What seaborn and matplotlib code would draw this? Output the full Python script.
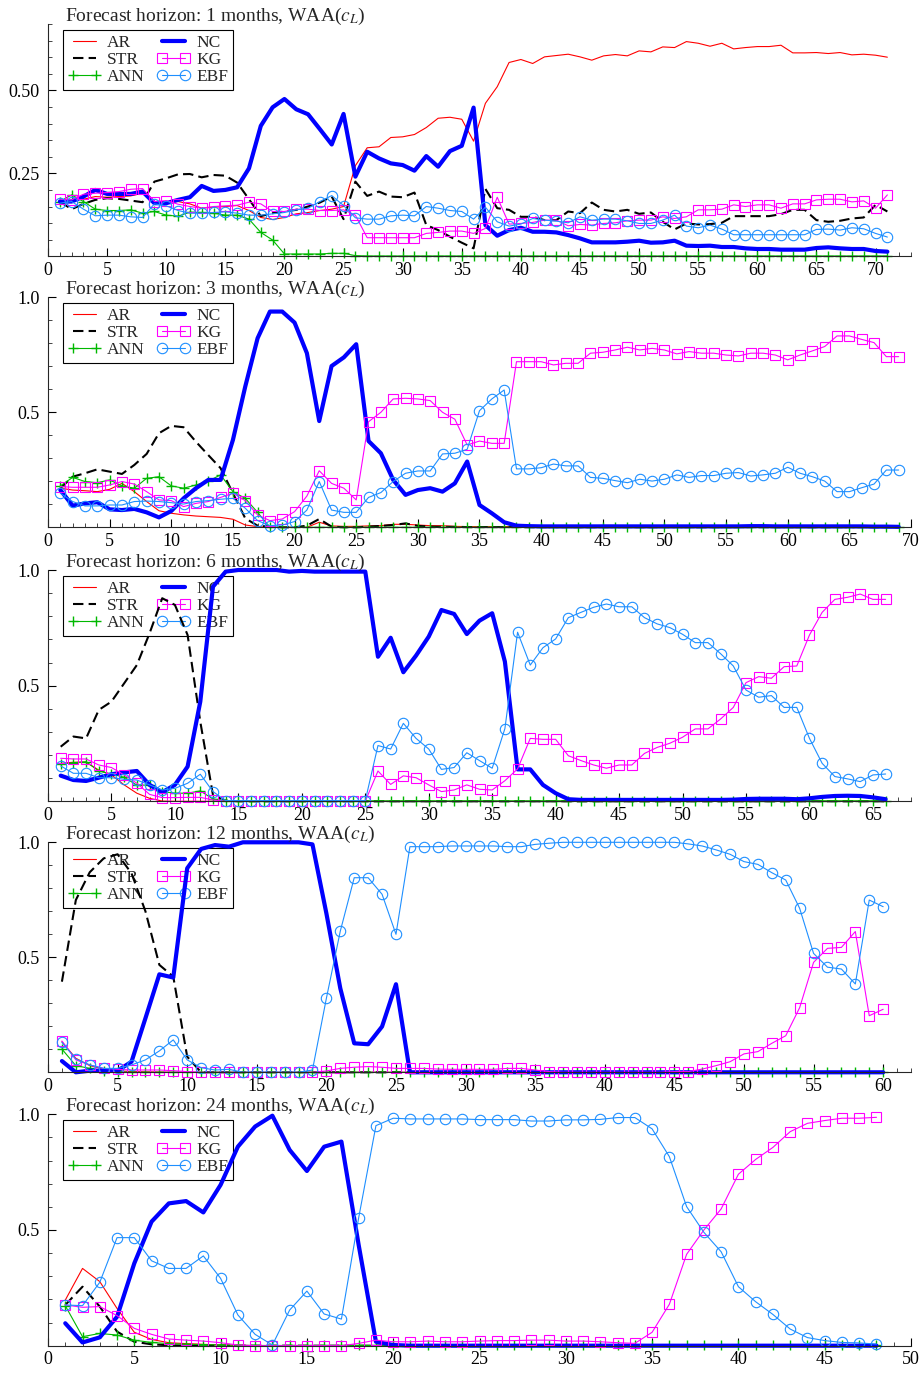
#!/usr/bin/env python3
"""
Forecast-horizon weight panels, WAA(c_L), five horizons stacked
"""
import matplotlib
matplotlib.use('Agg')
import matplotlib.pyplot as plt
from matplotlib.ticker import MultipleLocator, FixedLocator, FormatStrFormatter
import seaborn as sns

# ---- data: weights per model, one value per month index (1..n) ----
# horizon 1 month (71 points)
p1_ar = [0.165, 0.17, 0.172, 0.18, 0.178, 0.18, 0.182, 0.19, 0.165, 0.165,
         0.165, 0.158, 0.145, 0.148, 0.15, 0.153, 0.138, 0.117, 0.111, 0.117,
         0.128, 0.132, 0.138, 0.142, 0.15, 0.273, 0.327, 0.33, 0.358, 0.36,
         0.367, 0.388, 0.416, 0.419, 0.413, 0.347, 0.461, 0.511, 0.584, 0.593,
         0.581, 0.601, 0.605, 0.609, 0.601, 0.591, 0.604, 0.608, 0.604, 0.619,
         0.616, 0.631, 0.629, 0.647, 0.642, 0.633, 0.642, 0.625, 0.629, 0.632,
         0.632, 0.636, 0.613, 0.613, 0.614, 0.611, 0.614, 0.607, 0.609, 0.606,
         0.6]
p1_str = [0.165, 0.142, 0.158, 0.17, 0.175, 0.173, 0.168, 0.163, 0.225, 0.235,
          0.247, 0.248, 0.238, 0.245, 0.243, 0.222, 0.172, 0.121, 0.13, 0.135,
          0.14, 0.15, 0.162, 0.18, 0.112, 0.225, 0.182, 0.195, 0.18, 0.178,
          0.192, 0.094, 0.079, 0.059, 0.041, 0.024, 0.203, 0.145, 0.14, 0.119,
          0.119, 0.109, 0.109, 0.135, 0.13, 0.162, 0.14, 0.135, 0.14, 0.128,
          0.132, 0.104, 0.081, 0.099, 0.096, 0.097, 0.101, 0.121, 0.121, 0.121,
          0.121, 0.127, 0.14, 0.14, 0.109, 0.104, 0.107, 0.114, 0.117, 0.155,
          0.135]
p1_ann = [0.165, 0.185, 0.165, 0.142, 0.138, 0.138, 0.14, 0.13, 0.135, 0.124,
          0.121, 0.133, 0.132, 0.13, 0.124, 0.124, 0.112, 0.072, 0.049, 0.007,
          0.007, 0.007, 0.007, 0.009, 0.009, 0.002, 0.001, 0.001, 0.001, 0.001,
          0.001, 0.001, 0.001, 0.001, 0.001, 0.001, 0.001, 0.001, 0.001, 0.001,
          0.001, 0.001, 0.001, 0.001, 0.001, 0.001, 0.001, 0.001, 0.001, 0.001,
          0.001, 0.001, 0.001, 0.001, 0.001, 0.001, 0.001, 0.001, 0.001, 0.001,
          0.001, 0.001, 0.001, 0.001, 0.001, 0.001, 0.001, 0.001, 0.001, 0.001,
          0.001]
p1_nc = [0.165, 0.165, 0.18, 0.2, 0.188, 0.188, 0.188, 0.195, 0.16, 0.16,
         0.17, 0.178, 0.212, 0.197, 0.2, 0.208, 0.265, 0.393, 0.449, 0.474,
         0.443, 0.428, 0.383, 0.337, 0.429, 0.24, 0.315, 0.295, 0.28, 0.275,
         0.258, 0.302, 0.27, 0.317, 0.333, 0.448, 0.094, 0.062, 0.079, 0.086,
         0.074, 0.074, 0.072, 0.064, 0.054, 0.042, 0.042, 0.042, 0.044, 0.047,
         0.041, 0.042, 0.047, 0.032, 0.031, 0.032, 0.028, 0.028, 0.024, 0.022,
         0.022, 0.02, 0.02, 0.02, 0.025, 0.027, 0.024, 0.022, 0.022, 0.016,
         0.014]
p1_kg = [0.172, 0.17, 0.187, 0.19, 0.192, 0.195, 0.202, 0.204, 0.165, 0.168,
         0.157, 0.15, 0.145, 0.15, 0.152, 0.154, 0.163, 0.158, 0.135, 0.135,
         0.142, 0.142, 0.138, 0.138, 0.14, 0.124, 0.056, 0.056, 0.056, 0.056,
         0.056, 0.069, 0.072, 0.076, 0.076, 0.069, 0.084, 0.178, 0.097, 0.099,
         0.102, 0.109, 0.109, 0.092, 0.096, 0.094, 0.099, 0.101, 0.107, 0.109,
         0.109, 0.119, 0.114, 0.119, 0.14, 0.14, 0.142, 0.155, 0.15, 0.155,
         0.155, 0.145, 0.158, 0.158, 0.17, 0.172, 0.172, 0.164, 0.167, 0.145,
         0.185]
p1_ebf = [0.16, 0.165, 0.142, 0.122, 0.124, 0.124, 0.119, 0.117, 0.158, 0.152,
          0.138, 0.13, 0.13, 0.132, 0.134, 0.13, 0.124, 0.124, 0.128, 0.132,
          0.14, 0.145, 0.165, 0.183, 0.153, 0.116, 0.112, 0.112, 0.122, 0.124,
          0.122, 0.15, 0.145, 0.138, 0.135, 0.112, 0.148, 0.104, 0.091, 0.097,
          0.114, 0.109, 0.106, 0.101, 0.119, 0.109, 0.112, 0.112, 0.107, 0.099,
          0.099, 0.109, 0.124, 0.091, 0.086, 0.094, 0.082, 0.065, 0.065, 0.065,
          0.065, 0.065, 0.065, 0.065, 0.081, 0.082, 0.079, 0.086, 0.083, 0.069,
          0.058]

# horizon 3 months (69 points)
p2_ar = [0.17, 0.162, 0.159, 0.155, 0.165, 0.191, 0.155, 0.112, 0.072, 0.061,
         0.054, 0.049, 0.046, 0.043, 0.035, 0.01, 0.003, 0.0, 0.0, 0.0,
         0.0, 0.022, 0.006, 0.004, 0.004, 0.006, 0.007, 0.013, 0.013, 0.01,
         0.007, 0.007, 0.004, 0.003, 0.003, 0.003, 0.003, 0.004, 0.005, 0.005,
         0.005, 0.006, 0.006, 0.007, 0.008, 0.008, 0.007, 0.006, 0.005, 0.005,
         0.004, 0.004, 0.004, 0.003, 0.003, 0.003, 0.003, 0.003, 0.003, 0.003,
         0.003, 0.002, 0.002, 0.002, 0.002, 0.002, 0.002, 0.002, 0.002]
p2_str = [0.17, 0.22, 0.235, 0.252, 0.242, 0.232, 0.271, 0.319, 0.409, 0.441,
          0.435, 0.372, 0.314, 0.257, 0.148, 0.039, 0.007, 0.003, 0.0, 0.0,
          0.007, 0.036, 0.003, 0.0, 0.0, 0.003, 0.006, 0.01, 0.017, 0.006,
          0.003, 0.002, 0.002, 0.001, 0.001, 0.001, 0.001, 0.001, 0.001, 0.001,
          0.001, 0.001, 0.001, 0.001, 0.001, 0.001, 0.001, 0.001, 0.001, 0.001,
          0.001, 0.001, 0.001, 0.001, 0.001, 0.001, 0.001, 0.001, 0.001, 0.001,
          0.001, 0.001, 0.001, 0.001, 0.001, 0.001, 0.001, 0.001, 0.001]
p2_ann = [0.18, 0.217, 0.199, 0.194, 0.206, 0.18, 0.17, 0.213, 0.22, 0.18,
          0.17, 0.184, 0.201, 0.228, 0.155, 0.126, 0.065, 0.0, 0.0, 0.0,
          0.0, 0.0, 0.0, 0.0, 0.0, 0.0, 0.0, 0.0, 0.0, 0.0,
          0.0, 0.0, 0.0, 0.0, 0.0, 0.0, 0.0, 0.0, 0.0, 0.0,
          0.0, 0.0, 0.0, 0.0, 0.0, 0.0, 0.0, 0.0, 0.0, 0.0,
          0.0, 0.0, 0.0, 0.0, 0.0, 0.0, 0.0, 0.0, 0.0, 0.0,
          0.0, 0.0, 0.0, 0.0, 0.0, 0.0, 0.0, 0.0, 0.0]
p2_nc = [0.162, 0.094, 0.104, 0.109, 0.078, 0.075, 0.08, 0.065, 0.043, 0.071,
         0.126, 0.17, 0.206, 0.206, 0.38, 0.612, 0.822, 0.938, 0.938, 0.89,
         0.757, 0.462, 0.701, 0.739, 0.796, 0.375, 0.322, 0.206, 0.141, 0.162,
         0.17, 0.155, 0.191, 0.286, 0.097, 0.061, 0.022, 0.007, 0.005, 0.004,
         0.004, 0.004, 0.004, 0.004, 0.004, 0.004, 0.004, 0.004, 0.004, 0.004,
         0.004, 0.004, 0.004, 0.004, 0.004, 0.004, 0.005, 0.005, 0.004, 0.004,
         0.004, 0.004, 0.004, 0.004, 0.004, 0.004, 0.003, 0.003, 0.002]
p2_kg = [0.177, 0.174, 0.174, 0.174, 0.184, 0.199, 0.188, 0.155, 0.119, 0.116,
         0.09, 0.104, 0.112, 0.13, 0.148, 0.116, 0.054, 0.029, 0.036, 0.068,
         0.136, 0.246, 0.191, 0.17, 0.119, 0.459, 0.5, 0.558, 0.561, 0.558,
         0.551, 0.5, 0.47, 0.358, 0.375, 0.365, 0.365, 0.72, 0.72, 0.72,
         0.706, 0.713, 0.713, 0.757, 0.761, 0.771, 0.783, 0.771, 0.778, 0.771,
         0.754, 0.764, 0.757, 0.757, 0.749, 0.745, 0.757, 0.757, 0.749, 0.728,
         0.749, 0.767, 0.786, 0.832, 0.832, 0.817, 0.803, 0.742, 0.742]
p2_ebf = [0.148, 0.112, 0.093, 0.093, 0.097, 0.097, 0.112, 0.114, 0.112, 0.107,
          0.101, 0.112, 0.116, 0.122, 0.126, 0.083, 0.029, 0.007, 0.01, 0.025,
          0.075, 0.199, 0.075, 0.065, 0.065, 0.13, 0.151, 0.199, 0.235, 0.245,
          0.245, 0.319, 0.322, 0.339, 0.507, 0.558, 0.597, 0.254, 0.254, 0.259,
          0.275, 0.267, 0.267, 0.217, 0.213, 0.203, 0.194, 0.209, 0.201, 0.209,
          0.228, 0.217, 0.225, 0.225, 0.235, 0.238, 0.223, 0.228, 0.235, 0.261,
          0.235, 0.22, 0.201, 0.155, 0.155, 0.172, 0.188, 0.249, 0.249]

# horizon 6 months (66 points)
p3_ar = [0.164, 0.169, 0.169, 0.135, 0.114, 0.071, 0.035, 0.013, 0.001, 0.0,
         0.0, 0.0, 0.0, 0.0, 0.0, 0.0, 0.0, 0.0, 0.0, 0.0,
         0.0, 0.0, 0.0, 0.0, 0.0, 0.0, 0.0, 0.0, 0.0, 0.0,
         0.0, 0.0, 0.0, 0.0, 0.0, 0.0, 0.0, 0.0, 0.0, 0.0,
         0.0, 0.0, 0.0, 0.0, 0.0, 0.0, 0.0, 0.0, 0.0, 0.0,
         0.0, 0.0, 0.0, 0.0, 0.0, 0.0, 0.0, 0.0, 0.0, 0.0,
         0.0, 0.0, 0.0, 0.0, 0.0, 0.0]
p3_str = [0.236, 0.28, 0.272, 0.395, 0.431, 0.51, 0.589, 0.726, 0.878, 0.849,
          0.719, 0.344, 0.027, 0.003, 0.0, 0.0, 0.0, 0.0, 0.0, 0.0,
          0.0, 0.0, 0.0, 0.0, 0.0, 0.0, 0.0, 0.0, 0.0, 0.0,
          0.0, 0.0, 0.0, 0.0, 0.0, 0.0, 0.0, 0.0, 0.0, 0.0,
          0.0, 0.0, 0.0, 0.0, 0.0, 0.0, 0.0, 0.0, 0.0, 0.0,
          0.0, 0.0, 0.0, 0.0, 0.0, 0.0, 0.0, 0.0, 0.0, 0.0,
          0.0, 0.0, 0.0, 0.0, 0.0, 0.0]
p3_ann = [0.161, 0.167, 0.171, 0.131, 0.118, 0.104, 0.07, 0.07, 0.042, 0.035,
          0.035, 0.045, 0.01, 0.003, 0.002, 0.002, 0.002, 0.002, 0.002, 0.002,
          0.002, 0.002, 0.002, 0.002, 0.002, 0.002, 0.002, 0.002, 0.002, 0.002,
          0.002, 0.002, 0.002, 0.002, 0.002, 0.002, 0.002, 0.002, 0.002, 0.002,
          0.002, 0.002, 0.002, 0.002, 0.002, 0.002, 0.002, 0.002, 0.002, 0.002,
          0.002, 0.002, 0.002, 0.002, 0.002, 0.002, 0.002, 0.002, 0.002, 0.002,
          0.002, 0.002, 0.002, 0.002, 0.002, 0.002]
p3_nc = [0.111, 0.092, 0.088, 0.102, 0.117, 0.125, 0.131, 0.071, 0.039, 0.071,
         0.15, 0.431, 0.928, 0.993, 1.0, 1.0, 1.0, 1.0, 0.993, 0.996,
         0.993, 0.993, 0.993, 0.993, 0.993, 0.625, 0.707, 0.558, 0.63, 0.712,
         0.827, 0.81, 0.723, 0.781, 0.813, 0.604, 0.138, 0.138, 0.071, 0.035,
         0.009, 0.006, 0.006, 0.006, 0.006, 0.006, 0.006, 0.006, 0.006, 0.006,
         0.006, 0.006, 0.006, 0.007, 0.01, 0.011, 0.011, 0.011, 0.009, 0.013,
         0.019, 0.023, 0.024, 0.023, 0.017, 0.009]
p3_kg = [0.186, 0.183, 0.183, 0.157, 0.146, 0.114, 0.078, 0.03, 0.016, 0.016,
         0.017, 0.017, 0.006, 0.0, 0.0, 0.0, 0.0, 0.0, 0.0, 0.0,
         0.0, 0.0, 0.0, 0.0, 0.0, 0.131, 0.073, 0.11, 0.102, 0.071,
         0.042, 0.049, 0.071, 0.052, 0.049, 0.089, 0.14, 0.272, 0.268, 0.268,
         0.197, 0.176, 0.157, 0.143, 0.157, 0.157, 0.207, 0.233, 0.251, 0.277,
         0.313, 0.313, 0.356, 0.406, 0.513, 0.539, 0.532, 0.582, 0.585, 0.719,
         0.817, 0.873, 0.882, 0.896, 0.873, 0.873]
p3_ebf = [0.153, 0.121, 0.121, 0.102, 0.102, 0.095, 0.092, 0.071, 0.049, 0.056,
          0.078, 0.117, 0.042, 0.003, 0.003, 0.003, 0.003, 0.003, 0.003, 0.003,
          0.003, 0.003, 0.003, 0.003, 0.003, 0.241, 0.226, 0.337, 0.272, 0.226,
          0.138, 0.146, 0.21, 0.176, 0.143, 0.314, 0.731, 0.589, 0.664, 0.702,
          0.794, 0.817, 0.839, 0.853, 0.841, 0.841, 0.794, 0.767, 0.751, 0.722,
          0.686, 0.686, 0.638, 0.585, 0.481, 0.45, 0.457, 0.406, 0.406, 0.272,
          0.164, 0.107, 0.097, 0.085, 0.114, 0.118]

# horizon 12 months (60 points)
p4_ar = [0.133, 0.061, 0.029, 0.014, 0.007, 0.003, 0.002, 0.001, 0.0, 0.0,
         0.0, 0.0, 0.0, 0.0, 0.0, 0.0, 0.0, 0.0, 0.0, 0.0,
         0.0, 0.0, 0.0, 0.0, 0.0, 0.0, 0.0, 0.0, 0.0, 0.0,
         0.0, 0.0, 0.0, 0.0, 0.0, 0.0, 0.0, 0.0, 0.0, 0.0,
         0.0, 0.0, 0.0, 0.0, 0.0, 0.0, 0.0, 0.0, 0.0, 0.0,
         0.0, 0.0, 0.0, 0.0, 0.0, 0.0, 0.0, 0.0, 0.0, 0.0]
p4_str = [0.394, 0.749, 0.87, 0.93, 0.948, 0.865, 0.7, 0.467, 0.416, 0.068,
          0.0, 0.0, 0.0, 0.0, 0.0, 0.0, 0.0, 0.0, 0.0, 0.0,
          0.0, 0.0, 0.0, 0.0, 0.0, 0.0, 0.0, 0.0, 0.0, 0.0,
          0.0, 0.0, 0.0, 0.0, 0.0, 0.0, 0.0, 0.0, 0.0, 0.0,
          0.0, 0.0, 0.0, 0.0, 0.0, 0.0, 0.0, 0.0, 0.0, 0.0,
          0.0, 0.0, 0.0, 0.0, 0.0, 0.0, 0.0, 0.0, 0.0, 0.0]
p4_ann = [0.101, 0.029, 0.017, 0.007, 0.003, 0.0, 0.0, 0.0, 0.0, 0.0,
          0.0, 0.0, 0.0, 0.0, 0.0, 0.0, 0.0, 0.0, 0.0, 0.0,
          0.0, 0.0, 0.0, 0.0, 0.0, 0.0, 0.0, 0.0, 0.0, 0.0,
          0.0, 0.0, 0.0, 0.0, 0.0, 0.0, 0.0, 0.0, 0.0, 0.0,
          0.0, 0.0, 0.0, 0.0, 0.0, 0.0, 0.0, 0.0, 0.0, 0.0,
          0.0, 0.0, 0.0, 0.0, 0.0, 0.0, 0.0, 0.0, 0.0, 0.0]
p4_nc = [0.049, 0.0, 0.007, 0.007, 0.007, 0.046, 0.235, 0.426, 0.412, 0.887,
         0.971, 0.988, 0.981, 1.0, 1.0, 1.0, 1.0, 1.0, 0.991, 0.691,
         0.365, 0.126, 0.122, 0.199, 0.383, 0.0, 0.0, 0.0, 0.0, 0.0,
         0.0, 0.0, 0.0, 0.0, 0.0, 0.0, 0.0, 0.0, 0.0, 0.0,
         0.0, 0.0, 0.0, 0.0, 0.0, 0.0, 0.0, 0.0, 0.0, 0.0,
         0.0, 0.0, 0.0, 0.0, 0.0, 0.0, 0.0, 0.0, 0.0, 0.0]
p4_kg = [0.136, 0.054, 0.032, 0.017, 0.013, 0.01, 0.01, 0.01, 0.007, 0.003,
         0.0, 0.0, 0.0, 0.0, 0.0, 0.0, 0.0, 0.0, 0.0, 0.006,
         0.017, 0.022, 0.025, 0.022, 0.017, 0.017, 0.017, 0.014, 0.013, 0.013,
         0.013, 0.013, 0.017, 0.017, 0.01, 0.003, 0.0, 0.0, 0.0, 0.0,
         0.0, 0.0, 0.0, 0.0, 0.003, 0.003, 0.014, 0.029, 0.046, 0.08,
         0.09, 0.126, 0.159, 0.281, 0.478, 0.539, 0.543, 0.612, 0.246, 0.274]
p4_ebf = [0.13, 0.058, 0.032, 0.017, 0.017, 0.032, 0.054, 0.093, 0.141, 0.054,
          0.02, 0.01, 0.013, 0.0, 0.0, 0.0, 0.0, 0.0, 0.01, 0.322,
          0.614, 0.846, 0.846, 0.774, 0.6, 0.981, 0.981, 0.981, 0.984, 0.984,
          0.984, 0.984, 0.981, 0.981, 0.991, 0.996, 1.0, 1.0, 1.0, 1.0,
          1.0, 1.0, 1.0, 1.0, 1.0, 0.993, 0.984, 0.967, 0.948, 0.916,
          0.904, 0.868, 0.836, 0.713, 0.517, 0.457, 0.449, 0.384, 0.749, 0.72]

# horizon 24 months (48 points)
p5_ar = [0.197, 0.334, 0.277, 0.161, 0.058, 0.027, 0.013, 0.009, 0.006, 0.003,
         0.002, 0.0, 0.0, 0.0, 0.0, 0.0, 0.0, 0.0, 0.0, 0.0,
         0.0, 0.0, 0.0, 0.0, 0.0, 0.0, 0.0, 0.0, 0.0, 0.0,
         0.0, 0.0, 0.0, 0.0, 0.0, 0.0, 0.0, 0.0, 0.0, 0.0,
         0.0, 0.0, 0.0, 0.0, 0.0, 0.0, 0.0, 0.0]
p5_str = [0.176, 0.255, 0.169, 0.061, 0.017, 0.006, 0.002, 0.0, 0.0, 0.0,
          0.0, 0.0, 0.0, 0.0, 0.0, 0.0, 0.0, 0.0, 0.0, 0.0,
          0.0, 0.0, 0.0, 0.0, 0.0, 0.0, 0.0, 0.0, 0.0, 0.0,
          0.0, 0.0, 0.0, 0.0, 0.0, 0.0, 0.0, 0.0, 0.0, 0.0,
          0.0, 0.0, 0.0, 0.0, 0.0, 0.0, 0.0, 0.0]
p5_ann = [0.173, 0.039, 0.053, 0.046, 0.024, 0.014, 0.009, 0.006, 0.005, 0.003,
          0.002, 0.001, 0.001, 0.001, 0.001, 0.001, 0.001, 0.001, 0.001, 0.001,
          0.001, 0.001, 0.001, 0.001, 0.001, 0.001, 0.001, 0.001, 0.001, 0.001,
          0.001, 0.001, 0.001, 0.001, 0.001, 0.001, 0.001, 0.001, 0.001, 0.001,
          0.001, 0.001, 0.001, 0.001, 0.001, 0.001, 0.001, 0.001]
p5_nc = [0.097, 0.014, 0.036, 0.125, 0.356, 0.536, 0.615, 0.625, 0.576, 0.695,
         0.86, 0.947, 0.994, 0.846, 0.755, 0.86, 0.882, 0.435, 0.017, 0.003,
         0.0, 0.0, 0.0, 0.0, 0.0, 0.0, 0.0, 0.0, 0.0, 0.0,
         0.0, 0.0, 0.0, 0.0, 0.0, 0.0, 0.0, 0.0, 0.0, 0.0,
         0.0, 0.0, 0.0, 0.0, 0.0, 0.0, 0.0, 0.0]
p5_kg = [0.176, 0.166, 0.169, 0.13, 0.075, 0.049, 0.029, 0.024, 0.02, 0.013,
         0.003, 0.0, 0.0, 0.0, 0.0, 0.0, 0.0, 0.01, 0.024, 0.017,
         0.017, 0.02, 0.017, 0.017, 0.02, 0.022, 0.022, 0.024, 0.024, 0.02,
         0.02, 0.017, 0.013, 0.01, 0.058, 0.179, 0.395, 0.5, 0.591, 0.741,
         0.805, 0.857, 0.925, 0.961, 0.973, 0.983, 0.983, 0.987]
p5_ebf = [0.176, 0.173, 0.274, 0.467, 0.467, 0.367, 0.334, 0.334, 0.388, 0.291,
          0.133, 0.049, 0.003, 0.154, 0.236, 0.137, 0.115, 0.553, 0.951, 0.983,
          0.98, 0.98, 0.98, 0.98, 0.977, 0.977, 0.977, 0.971, 0.971, 0.976,
          0.976, 0.978, 0.986, 0.986, 0.937, 0.817, 0.601, 0.49, 0.406, 0.255,
          0.19, 0.135, 0.072, 0.035, 0.022, 0.014, 0.012, 0.007]

horizons = [1, 3, 6, 12, 24]
model_names = ['AR', 'STR', 'ANN', 'NC', 'KG', 'EBF']
panels = [
    [p1_ar, p1_str, p1_ann, p1_nc, p1_kg, p1_ebf],
    [p2_ar, p2_str, p2_ann, p2_nc, p2_kg, p2_ebf],
    [p3_ar, p3_str, p3_ann, p3_nc, p3_kg, p3_ebf],
    [p4_ar, p4_str, p4_ann, p4_nc, p4_kg, p4_ebf],
    [p5_ar, p5_str, p5_ann, p5_nc, p5_kg, p5_ebf],
]
x_max = [73, 70, 68, 62, 50]

# ---- style ----
sns.set_theme(style='ticks')
plt.rcParams['font.family'] = ['Liberation Serif', 'DejaVu Serif']
plt.rcParams['mathtext.fontset'] = 'stix'
plt.rcParams['axes.linewidth'] = 0.8

line_styles = {
    'AR': dict(color='#ff0000', linewidth=0.8),
    'STR': dict(color='black', linewidth=1.5, linestyle=(0, (5, 2.5))),
    'ANN': dict(color='#00b800', linewidth=0.8, marker='+', markersize=7.5,
                markeredgecolor='#00b800', markeredgewidth=1.0),
    'NC': dict(color='#0000ff', linewidth=3.0),
    'KG': dict(color='#ff00ff', linewidth=0.8, marker='s', markersize=7,
               markerfacecolor='none', markeredgecolor='#ff00ff', markeredgewidth=0.8),
    'EBF': dict(color='#1e8fff', linewidth=0.8, marker='o', markersize=7.5,
                markerfacecolor='none', markeredgecolor='#1e8fff', markeredgewidth=0.8),
}

# axes placement in pixels (top, bottom) of a 924 x 1373 canvas
W, H = 924, 1373
left_px, right_px = 48, 911
axes_px = [(24, 256.3), (297.3, 527.3), (570, 801.3), (842.3, 1072.3), (1114.3, 1345.7)]

fig = plt.figure(figsize=(W / 100, H / 100), dpi=100)

for i, (h, series) in enumerate(zip(horizons, panels)):
    top, bot = axes_px[i]
    ax = fig.add_axes([left_px / W, 1 - bot / H, (right_px - left_px) / W, (bot - top) / H])
    for name, vals in zip(model_names, series):
        months = list(range(1, len(vals) + 1))
        sns.lineplot(x=months, y=vals, ax=ax, label=name, clip_on=False,
                     **line_styles[name])

    ymax = 0.7 if i == 0 else 1.0
    ax.set_xlim(0, x_max[i])
    ax.set_ylim(0, ymax)
    ax.set_xlabel('')
    ax.set_ylabel('')

    ax.xaxis.set_major_locator(MultipleLocator(5))
    ax.xaxis.set_minor_locator(MultipleLocator(1))
    if i == 0:
        ax.yaxis.set_major_locator(FixedLocator([0.25, 0.5]))
        ax.yaxis.set_minor_locator(MultipleLocator(0.05))
        ax.yaxis.set_major_formatter(FormatStrFormatter('%.2f'))
    else:
        ax.yaxis.set_major_locator(FixedLocator([0.5, 1.0]))
        ax.yaxis.set_minor_locator(MultipleLocator(0.1))
        ax.yaxis.set_major_formatter(FormatStrFormatter('%.1f'))

    ax.tick_params(which='major', direction='in', length=5.5, width=0.8,
                   labelsize=13, pad=4, colors='black')
    ax.tick_params(which='minor', direction='in', length=3, width=0.6)
    ax.tick_params(axis='y', pad=6)
    sns.despine(ax=ax)

    ax.text(17 / 863, 1 + 3 / 230, f'Forecast horizon: {h} months, WAA($c_L$)',
            transform=ax.transAxes, ha='left', va='baseline', fontsize=14)

    leg = ax.legend(loc='upper left', bbox_to_anchor=(15 / 863, 1 - 5.5 / 230),
                    borderaxespad=0, ncol=2, numpoints=2, fontsize=12.5,
                    handlelength=1.9, handletextpad=0.35, columnspacing=0.7,
                    labelspacing=0.05, borderpad=0.3, fancybox=False,
                    frameon=True, framealpha=1, edgecolor='black')
    leg.get_frame().set_linewidth(0.8)
    leg.set_zorder(1.5)

fig.savefig('out.png', dpi=100)
plt.close(fig)
